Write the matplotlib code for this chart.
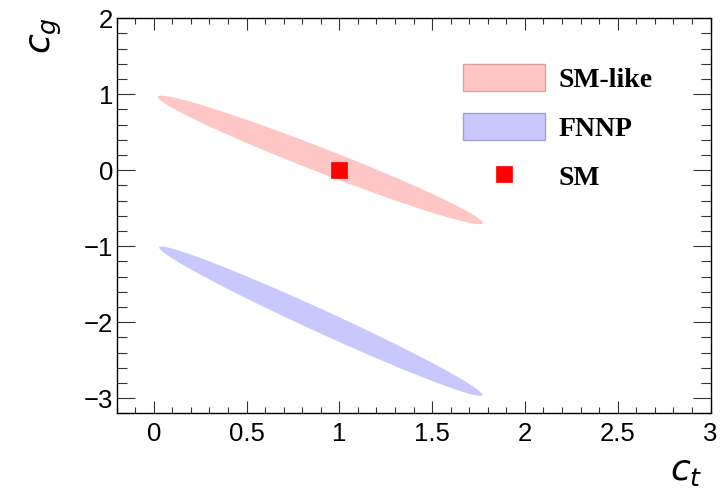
import numpy as np
import matplotlib.pyplot as plt
from matplotlib.patches import Patch
from matplotlib.lines import Line2D
from matplotlib.ticker import MultipleLocator

# Ellipse regions: end points (c_t, c_g) along the long axis and vertical half-thickness
sm_like_tips = [(0.022, 0.964), (1.773, -0.693)]
sm_like_half = 0.171
fnnp_tips = [(0.029, -1.018), (1.771, -2.957)]
fnnp_half = 0.164
sm_point = (1.0, 0.0)

labels = ['SM-like', 'FNNP', 'SM']
fill_colors = ['#ffc6c6', '#c8c8ff']
edge_colors = ['#e0a0a0', '#a0a0e0']

xticks = [0, 0.5, 1, 1.5, 2, 2.5, 3]
xticklabels = ['0', '0.5', '1', '1.5', '2', '2.5', '3']
yticks = [-3, -2, -1, 0, 1, 2]
yticklabels = ['\u22123', '\u22122', '\u22121', '0', '1', '2']


def ellipse_xy(tips, half, n=300):
    p1, p2 = np.array(tips[0]), np.array(tips[1])
    c = (p1 + p2) / 2
    a = (p2 - p1) / 2
    b = np.array([0.0, half])
    t = np.linspace(0, 2 * np.pi, n)
    pts = c[None, :] + np.cos(t)[:, None] * a[None, :] + np.sin(t)[:, None] * b[None, :]
    return pts[:, 0], pts[:, 1]


plt.rcParams['font.family'] = ['Liberation Sans', 'DejaVu Sans']
plt.rcParams['mathtext.fontset'] = 'dejavusans'

W, H = 726, 488
fig = plt.figure(figsize=(W / 100, H / 100), dpi=100)
L, R, T, B = 116.7, 710.5, 18.3, 413.3
ax = fig.add_axes([L / W, 1 - B / H, (R - L) / W, (B - T) / H])

x, y = ellipse_xy(sm_like_tips, sm_like_half)
ax.fill(x, y, color=fill_colors[0], lw=0)
x, y = ellipse_xy(fnnp_tips, fnnp_half)
ax.fill(x, y, color=fill_colors[1], lw=0)
ax.plot([sm_point[0]], [sm_point[1]], 's', color='red', ms=11.5, mec='red', mew=0.5)

ax.set_xlim(-0.2, 3.0)
ax.set_ylim(-3.2, 2.0)
ax.set_xticks(xticks)
ax.set_xticklabels(xticklabels)
ax.set_yticks(yticks)
ax.set_yticklabels(yticklabels)
ax.xaxis.set_minor_locator(MultipleLocator(0.1))
ax.yaxis.set_minor_locator(MultipleLocator(0.2))
ax.tick_params(which='both', direction='in', top=True, right=True, labelsize=18.5,
               width=0.8, color='#333333')
ax.tick_params(axis='x', which='major', length=8.6, pad=6)
ax.tick_params(axis='x', which='minor', length=4.3)
ax.tick_params(axis='y', which='major', length=12.7, pad=2.5)
ax.tick_params(axis='y', which='minor', length=7.2)
for s in ax.spines.values():
    s.set_linewidth(1.0)

fig.text(703 / W, 1 - 471 / H, r'$c_t$', fontsize=26, ha='right', va='center')
fig.text(46 / W, 1 - 17 / H, r'$c_g$', fontsize=26, ha='center', va='top', rotation=90)

handles = [
    Patch(facecolor=fill_colors[0], edgecolor=edge_colors[0], lw=1),
    Patch(facecolor=fill_colors[1], edgecolor=edge_colors[1], lw=1),
    Line2D([], [], marker='s', color='red', ls='none', ms=11.5, mew=0.5),
]
ax.legend(handles, labels, loc='upper left', bbox_to_anchor=(463 / W, 1 - 64 / H),
          bbox_transform=fig.transFigure,
          frameon=False, handlelength=2.95, handleheight=1.12, handletextpad=0.5,
          labelspacing=0.73, borderaxespad=0, borderpad=0,
          prop={'family': 'Liberation Serif', 'weight': 'bold', 'size': 20})

fig.savefig('out.png', dpi=100)
